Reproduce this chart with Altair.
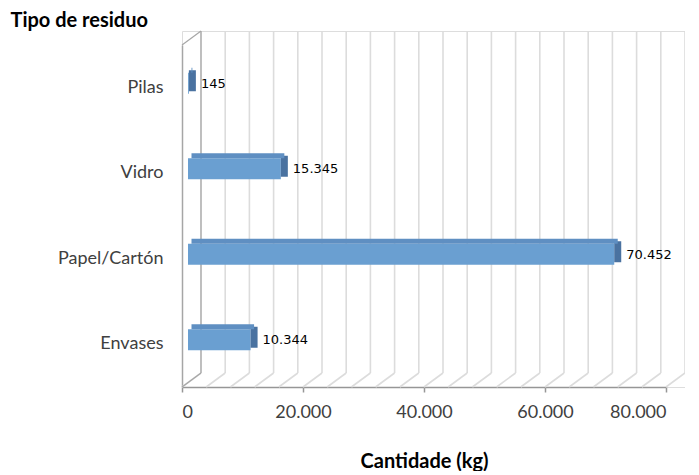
import altair as alt
import pandas as pd

categories = ["Pilas", "Vidro", "Papel/Cartón", "Envases"]
values = [145, 15345, 70452, 10344]
grid_values = list(range(0, 80001, 4000))
tick_values = [0, 20000, 40000, 60000, 80000]

bars = pd.DataFrame({"cat": categories, "v": values})
grid = pd.DataFrame({"g": grid_values})

XS = alt.Scale(domain=[0, 80000], range=[0, 484], nice=False, zero=True)
YS = alt.Scale(domain=categories, range=[14, 356], paddingInner=0, paddingOuter=0)

FONT = "Lato"
DEPTH_X = 19

XAXIS = alt.Axis(
    values=tick_values, grid=False, domainColor="#969696", domainWidth=1.5,
    tickColor="#969696", tickSize=5, tickWidth=1.5,
    labelExpr="replace(format(datum.value, ',d'), ',', '.')",
    labelFont=FONT, labelFontSize=18, labelColor="#404040", labelPadding=11,
    title="Cantidade (kg)", titleFont=FONT, titleFontSize=20, titleFontWeight="bold",
    titleColor="#000000", titlePadding=30)
YAXIS = alt.Axis(
    ticks=False, domainColor="#a6a6a6", domainWidth=1.5,
    labelFont=FONT, labelFontSize=18, labelColor="#404040", labelPadding=19,
    title="Tipo de residuo", titleFont=FONT, titleFontSize=20, titleFontWeight="bold",
    titleColor="#000000", titleAngle=0, titleAlign="left", titleBaseline="middle",
    titleX=-172, titleY=-11)

X = alt.X("g:Q", scale=XS, axis=XAXIS)
XV = alt.X("v:Q", scale=XS, axis=XAXIS)
YC = alt.Y("cat:N", scale=YS, sort=categories, axis=YAXIS)

GRID_COLOR = "#dcdcdc"

# back wall gridlines
back = alt.Chart(grid).mark_rule(color=GRID_COLOR, strokeWidth=1.6, xOffset=DEPTH_X, x2Offset=DEPTH_X).encode(
    x=X, y=alt.value(0), y2=alt.value(342),
)
# floor diagonals
floor = alt.Chart(grid).mark_rule(color=GRID_COLOR, strokeWidth=1.6, x2Offset=DEPTH_X).encode(
    x=X, x2="g:Q", y=alt.value(356), y2=alt.value(342),
)
# left wall edges
wall = grid[grid["g"] == 0]
wall_back = alt.Chart(wall).mark_rule(
    color="#a6a6a6", strokeWidth=1.2, xOffset=DEPTH_X, x2Offset=DEPTH_X).encode(
    x=X, y=alt.value(0), y2=alt.value(342),
)
wall_top = alt.Chart(wall).mark_rule(color="#a6a6a6", strokeWidth=1.2, x2Offset=DEPTH_X).encode(
    x=X, x2="g:Q", y=alt.value(14), y2=alt.value(0),
)
wall_floor = alt.Chart(wall).mark_rule(color="#a6a6a6", strokeWidth=1.2, x2Offset=DEPTH_X).encode(
    x=X, x2="g:Q", y=alt.value(356), y2=alt.value(342),
)

front = alt.Chart(bars).mark_bar(color="#6a9fd1", size=21, xOffset=6, x2Offset=6, yOffset=-4.5).encode(
    x=XV, x2=alt.datum(0), y=YC,
)
side = alt.Chart(bars).mark_bar(color="#4a72a0", size=21, xOffset=6, x2Offset=13, yOffset=-7).encode(
    x=XV, x2="v:Q", y=YC,
)
top = alt.Chart(bars).mark_bar(color="#5f8fc2", size=5, xOffset=9.5, x2Offset=9.5, yOffset=-17.5).encode(
    x=XV, x2=alt.datum(0), y=YC,
)
labels = alt.Chart(bars).transform_calculate(
    lbl="replace(format(datum.v, ',d'), ',', '.')"
).mark_text(font="DejaVu Sans", fontSize=13, color="#000000", align="left", baseline="middle",
            xOffset=18, yOffset=-4).encode(
    x=XV, y=YC, text="lbl:N",
)

chart = alt.layer(back, floor, wall_back, wall_top, wall_floor, front, side, top, labels).properties(
    width=503, height=356,
    padding={"left": 174, "top": 23, "right": 0, "bottom": 84},
    autosize=alt.AutoSizeParams(type="none"),
).configure_view(stroke=None).configure(background="white")

chart.save("out.html", embed_options={"renderer": "svg", "actions": False})
